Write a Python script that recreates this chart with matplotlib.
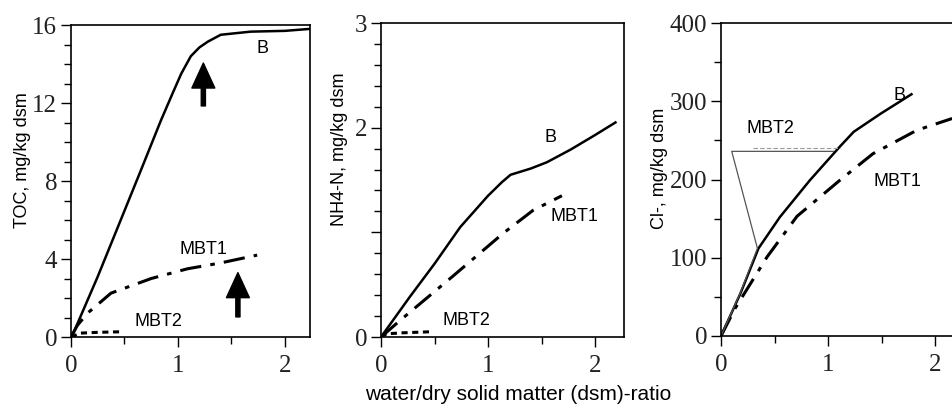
import matplotlib
matplotlib.use("Agg")
import matplotlib.pyplot as plt
import matplotlib.ticker as ticker

# TOC panel
toc_b_x = [0, 0.03, 0.25, 0.45, 0.654, 0.84, 0.95, 1.03, 1.12, 1.2, 1.28, 1.4, 1.68, 2.0, 2.23]
toc_b_y = [0, 0.3, 3.1, 5.8, 8.56, 11.1, 12.5, 13.5, 14.4, 14.85, 15.15, 15.5, 15.66, 15.7, 15.8]
toc_m1_x = [0, 0.06, 0.156, 0.374, 0.75, 1.09, 1.4, 1.74]
toc_m1_y = [0, 0.6, 1.23, 2.25, 3.0, 3.5, 3.8, 4.2]
toc_m2_x = [0, 0.09, 0.25, 0.48]
toc_m2_y = [0, 0.2, 0.24, 0.27]

# NH4-N panel
nh4_b_x = [0, 0.27, 0.5, 0.74, 1.0, 1.13, 1.21, 1.4, 1.55, 1.77, 2.0, 2.19]
nh4_b_y = [0, 0.385, 0.7, 1.05, 1.35, 1.48, 1.55, 1.61, 1.67, 1.79, 1.93, 2.05]
nh4_m1_x = [0, 0.18, 0.67, 1.14, 1.42, 1.69]
nh4_m1_y = [0, 0.16, 0.58, 0.99, 1.21, 1.35]
nh4_m2_x = [0, 0.05, 0.2, 0.46]
nh4_m2_y = [0, 0.03, 0.04, 0.05]

# Cl- panel
cl_b_x = [0, 0.18, 0.35, 0.55, 0.83, 1.11, 1.24, 1.49, 1.78]
cl_b_y = [0, 54, 112, 152, 199, 242, 261, 284, 309]
cl_m1_x = [0, 0.13, 0.43, 0.71, 1.11, 1.42, 1.83, 2.16]
cl_m1_y = [0, 35, 101, 153, 199, 233, 263, 278]
cl_m2_x = [0, 0.18, 0.34, 0.1, 1.05]
cl_m2_y = [0, 55, 112, 236, 236]
cl_m2d_x = [0.3, 1.11]
cl_m2d_y = [240, 240]

xlabel = "water/dry solid matter (dsm)-ratio"
ylabels = ["TOC, mg/kg dsm", "NH4-N, mg/kg dsm", "Cl-, mg/kg dsm"]

fig = plt.figure(figsize=(9.53, 4.08), dpi=100)
ax1 = fig.add_axes([0.0745, 0.174, 0.2508, 0.7647])
ax2 = fig.add_axes([0.3998, 0.174, 0.2550, 0.7696])
ax3 = fig.add_axes([0.7566, 0.1765, 0.2434, 0.7670])

serif = "Liberation Serif"
sans = "Liberation Sans"


def style(ax, xmax, ymax, ymajor, yminor):
    ax.set_xlim(0, xmax)
    ax.set_ylim(0, ymax)
    ax.xaxis.set_major_locator(ticker.MultipleLocator(1))
    ax.xaxis.set_minor_locator(ticker.MultipleLocator(0.5))
    ax.yaxis.set_major_locator(ticker.MultipleLocator(ymajor))
    ax.yaxis.set_minor_locator(ticker.MultipleLocator(yminor))
    ax.tick_params(which="major", direction="out", length=7, width=1, pad=3)
    ax.tick_params(which="minor", direction="out", length=5, width=1)
    ax.tick_params(axis="x", which="major", pad=6)
    for lab in ax.get_xticklabels() + ax.get_yticklabels():
        lab.set_fontfamily(serif)
        lab.set_fontsize(18)
        lab.set_color("#222222")
    for sp in ax.spines.values():
        sp.set_linewidth(1.2)


arrow = dict(facecolor="k", edgecolor="k", width=3, headwidth=16.5,
             headlength=18, shrink=0)

# panel 1
ax1.plot(toc_b_x, toc_b_y, "k-", lw=1.8)
ax1.plot(toc_m1_x, toc_m1_y, "k", lw=2.2, dashes=[7, 3, 1.5, 3])
ax1.plot(toc_m2_x, toc_m2_y, "k", lw=2.2, dashes=[2, 1.5])
ax1.annotate("", xy=(1.237, 14.05), xytext=(1.237, 11.85), arrowprops=arrow)
ax1.annotate("", xy=(1.56, 3.3), xytext=(1.56, 1.03), arrowprops=arrow)
ax1.text(1.79, 14.8, "B", fontsize=13, family=sans, ha="center", va="center")
ax1.text(1.24, 4.5, "MBT1", fontsize=13, family=sans, ha="center", va="center")
ax1.text(0.82, 0.8, "MBT2", fontsize=13, family=sans, ha="center", va="center")
style(ax1, 2.234, 16, 4, 1)

# panel 2
ax2.plot(nh4_b_x, nh4_b_y, "k-", lw=1.8)
ax2.plot(nh4_m1_x, nh4_m1_y, "k", lw=2.2, dashes=[7, 3, 1.5, 3])
ax2.plot(nh4_m2_x, nh4_m2_y, "k", lw=2.2, dashes=[2, 1.5])
ax2.text(1.58, 1.91, "B", fontsize=13, family=sans, ha="center", va="center")
ax2.text(1.81, 1.15, "MBT1", fontsize=13, family=sans, ha="center", va="center")
ax2.text(0.8, 0.16, "MBT2", fontsize=13, family=sans, ha="center", va="center")
style(ax2, 2.27, 3, 1, 0.2)
ax2.set_yticks([0, 1, 2, 3])
ax2.set_yticklabels(["0", "", "2", "3"], family=serif, fontsize=18, color="#222222")

# panel 3
ax3.plot(cl_b_x, cl_b_y, "k-", lw=1.8)
ax3.plot(cl_m1_x, cl_m1_y, "k", lw=2.2, dashes=[7, 3, 1.5, 3])
ax3.plot(cl_m2_x, cl_m2_y, color="#555555", lw=0.9)
ax3.plot(cl_m2d_x, cl_m2d_y, color="#999999", lw=0.8, dashes=[4, 2])
ax3.text(1.67, 308, "B", fontsize=13, family=sans, ha="center", va="center")
ax3.text(0.46, 265, "MBT2", fontsize=13, family=sans, ha="center", va="center")
ax3.text(1.65, 197, "MBT1", fontsize=13, family=sans, ha="center", va="center")
style(ax3, 2.168, 400, 100, 50)
ax3.spines["right"].set_visible(False)

# axis titles
fig.text(23 / 953, 1 - 160 / 408, ylabels[0], rotation=90, family=sans,
         fontsize=13, ha="center", va="center")
fig.text(340 / 953, 1 - 149 / 408, ylabels[1], rotation=90, family=sans,
         fontsize=13, ha="center", va="center")
fig.text(660 / 953, 1 - 168 / 408, ylabels[2], rotation=90, family=sans,
         fontsize=13, ha="center", va="center")
fig.text(518 / 953, 1 - 395 / 408, xlabel, family=sans, fontsize=15,
         ha="center", va="center")

fig.savefig("out.png", dpi=100)
